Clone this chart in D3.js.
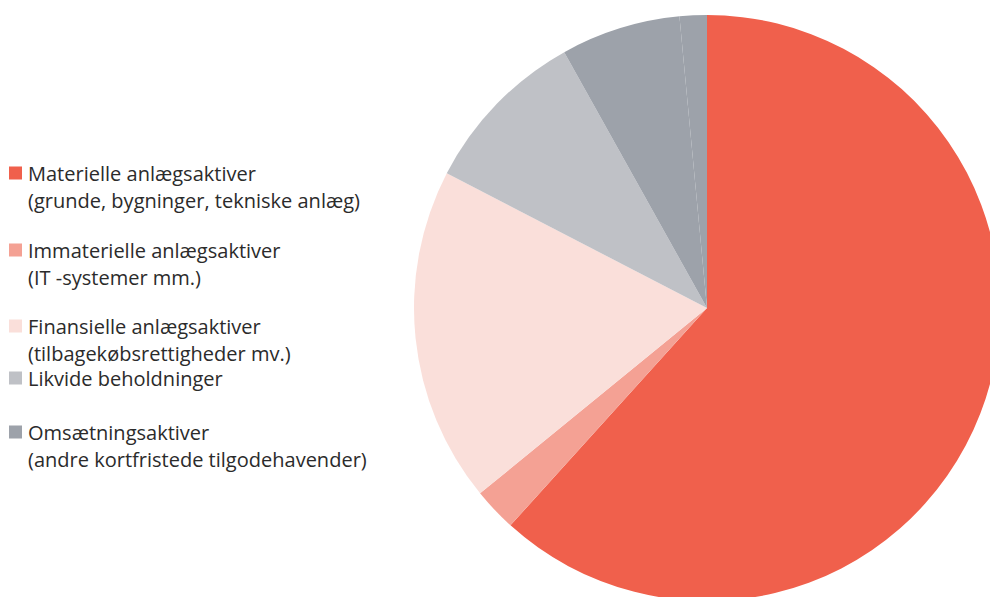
<!DOCTYPE html>
<html><head><meta charset="utf-8">
<script src="https://cdn.jsdelivr.net/npm/d3@7"></script>
<style>html,body{margin:0;padding:0;background:#fff;overflow:hidden}</style>
</head><body>
<script>
// Data
const sliceNames = ["Materielle anlægsaktiver","Immaterielle anlægsaktiver","Finansielle anlægsaktiver","Likvide beholdninger","Omsætningsaktiver","Omsætningsaktiver (øvrige)"];
const sliceValues = [61.7, 2.4, 18.5, 9.3, 6.6, 1.5];
const sliceColors = ["#F0604C","#F4A194","#FADFDA","#BFC1C6","#9DA2AA","#9DA2AA"];
const legendLabels = [
  ["Materielle anlægsaktiver","(grunde, bygninger, tekniske anlæg)"],
  ["Immaterielle anlægsaktiver","(IT -systemer mm.)"],
  ["Finansielle anlægsaktiver","(tilbagekøbsrettigheder mv.)"],
  ["Likvide beholdninger"],
  ["Omsætningsaktiver","(andre kortfristede tilgodehavender)"]
];
const legendColors = ["#F0604C","#F4A194","#FADFDA","#BFC1C6","#9DA2AA"];

// Layout
const W = 990, H = 597;
const cx = 707, cy = 308, R = 293;
const legendY = [173, 250, 326, 378, 432];
const lineH = 27;
const targetWidth = 339; // width of the longest legend line in the reference

const svg = d3.select("body").append("svg").attr("width", W).attr("height", H);

const pie = d3.pie().sort(null).value(d => d);
const arc = d3.arc().innerRadius(0).outerRadius(R);
svg.append("g").attr("transform", `translate(${cx},${cy})`)
  .selectAll("path").data(pie(sliceValues)).join("path")
  .attr("d", arc)
  .attr("fill", (d, i) => sliceColors[i]);

const lg = svg.append("g")
  .attr("font-family", "'Open Sans', sans-serif")
  .attr("font-size", 19)
  .attr("fill", "#2b2b2b");
const texts = [];
legendLabels.forEach((lines, i) => {
  const y = legendY[i];
  lg.append("rect").attr("x", 9).attr("y", y - 6.5).attr("width", 13).attr("height", 13)
    .attr("fill", legendColors[i]);
  lines.forEach((t, j) => {
    texts.push(lg.append("text").attr("x", 28).attr("y", y + j * lineH)
      .attr("dominant-baseline", "central")
      .text(t));
  });
});
// fit font size to reference width
const longest = d3.max(texts, t => t.node().getComputedTextLength());
const fs = 19 * targetWidth / longest;
lg.attr("font-size", fs.toFixed(2));
</script>
</body></html>
